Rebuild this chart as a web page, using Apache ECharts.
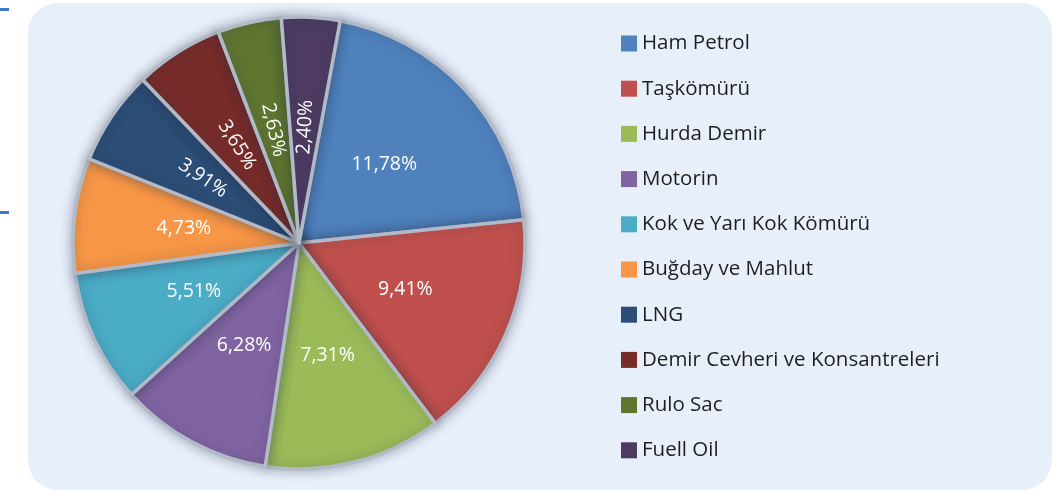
<!DOCTYPE html>
<html>
<head>
<meta charset="utf-8">
<script src="https://cdn.jsdelivr.net/npm/echarts@6/dist/echarts.min.js"></script>
<style>
  html, body { margin: 0; padding: 0; background: #fff; }
  #chart { width: 1061px; height: 491px; }
</style>
</head>
<body>
<div id="chart"></div>
<script>
// kalemler ve paylari (%)
const categories = ['Ham Petrol', 'Taşkömürü', 'Hurda Demir', 'Motorin', 'Kok ve Yarı Kok Kömürü',
  'Buğday ve Mahlut', 'LNG', 'Demir Cevheri ve Konsantreleri', 'Rulo Sac', 'Fuell Oil']
const shares = [11.78, 9.41, 7.31, 6.28, 5.51, 4.73, 3.91, 3.65, 2.63, 2.40]
const colors = ['#4F81BD', '#C0504D', '#9BBB59', '#8064A2', '#4BACC6',
  '#F79646', '#2C4D75', '#772C2A', '#5F7530', '#4D3B62']
// kucuk dilimlerin etiketleri radyal yazilir
const radialLabels = ['LNG', 'Demir Cevheri ve Konsantreleri', 'Rulo Sac', 'Fuell Oil']

const FONT = '"Open Sans", "Noto Sans", sans-serif'

const chart = echarts.init(document.getElementById('chart'))

const option = {
  animation: false,
  color: colors,
  graphic: [
    {type: 'rect', z: -10, shape: {x: 28, y: 3, width: 1024, height: 487, r: 30}, style: {fill: '#E7EFFA'}},
    {type: 'rect', shape: {x: 0, y: 8, width: 9, height: 3}, style: {fill: '#3B7BC6'}},
    {type: 'rect', shape: {x: 0, y: 211, width: 9, height: 3}, style: {fill: '#3B7BC6'}}
  ],
  legend: {
    orient: 'vertical',
    left: 616,
    top: 28,
    padding: 5,
    itemWidth: 16,
    itemHeight: 16,
    itemGap: 24.2,
    icon: 'rect',
    itemStyle: {borderWidth: 0},
    textStyle: {fontFamily: FONT, fontSize: 20.5, color: '#1e1e1e', padding: [0, 0, 0, 0]},
    data: categories
  },
  series: [{
    type: 'pie',
    center: [299, 243],
    radius: 226,
    startAngle: 79.5,
    clockwise: true,
    label: {
      show: true,
      position: 'inside',
      color: '#fff',
      fontFamily: FONT,
      fontSize: 19.5,
      formatter: p => p.value.toFixed(2).replace('.', ',') + '%'
    },
    labelLine: {show: false},
    itemStyle: {
      borderColor: '#B3BAC7',
      borderWidth: 3.5,
      shadowBlur: 12,
      shadowColor: 'rgba(40,50,70,0.35)'
    },
    emphasis: {disabled: true},
    data: categories.map((name, i) => ({
      name,
      value: shares[i],
      label: {rotate: radialLabels.includes(name) ? 'radial' : 0}
    }))
  }]
}

chart.setOption(option)
</script>
</body>
</html>
